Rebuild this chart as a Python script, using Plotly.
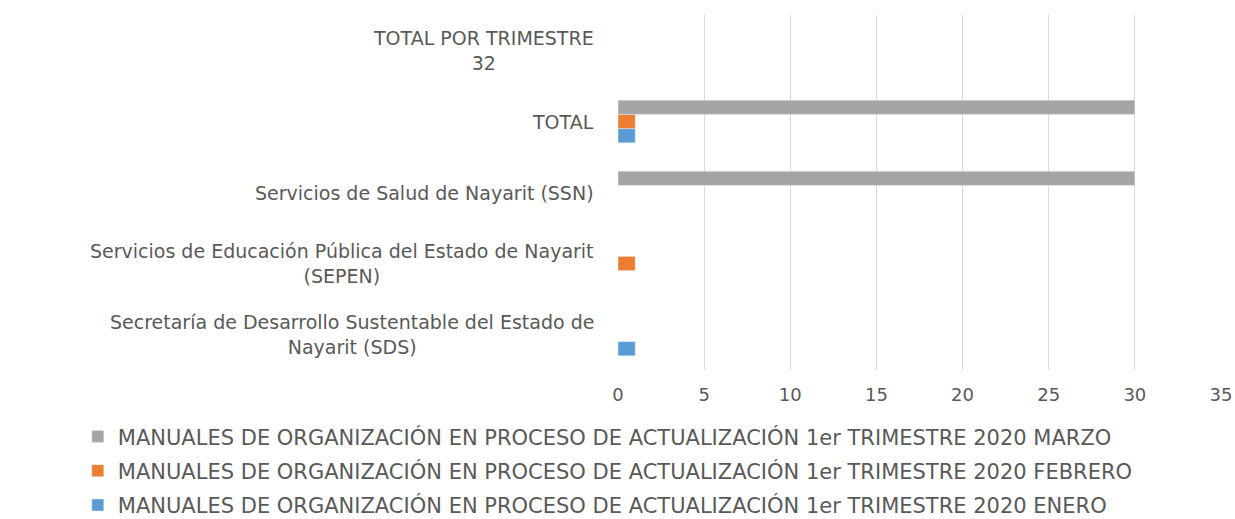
import plotly.graph_objects as go

categories = [
    "Secretaría de Desarrollo Sustentable del Estado de<br>Nayarit (SDS)",
    "Servicios de Educación Pública del Estado de Nayarit<br>(SEPEN)",
    "Servicios de Salud de Nayarit (SSN)",
    "TOTAL",
    "TOTAL POR TRIMESTRE<br>32",
]
enero = [1, None, None, 1, None]
febrero = [None, 1, None, 1, None]
marzo = [None, None, 30, 30, None]
series_names = [
    "MANUALES DE ORGANIZACIÓN EN PROCESO DE ACTUALIZACIÓN 1er TRIMESTRE 2020 ENERO",
    "MANUALES DE ORGANIZACIÓN EN PROCESO DE ACTUALIZACIÓN 1er TRIMESTRE 2020 FEBRERO",
    "MANUALES DE ORGANIZACIÓN EN PROCESO DE ACTUALIZACIÓN 1er TRIMESTRE 2020 MARZO",
]
colors = ["#5B9BD5", "#ED7D31", "#A5A5A5"]
legend_ranks = [3, 2, 1]
x_ticks = [0, 5, 10, 15, 20, 25, 30, 35]

FONT = "DejaVu Sans"
TXT = "#595959"

fig = go.Figure()
for name, vals, c, rk in zip(series_names, [enero, febrero, marzo], colors, legend_ranks):
    fig.add_trace(go.Bar(
        y=categories, x=vals, name=name, orientation="h",
        marker=dict(color=c), legendgroup=name, legendrank=rk,
    ))

for cat in categories:
    fig.add_annotation(
        text=cat, y=cat, yref="y", x=0, xref="paper",
        xanchor="right", xshift=-22, align="center", showarrow=False,
        font=dict(family=FONT, size=19, color=TXT),
    )

fig.update_layout(
    width=1235, height=519,
    margin=dict(l=618, r=14, t=15, b=149, autoexpand=False),
    paper_bgcolor="white", plot_bgcolor="white",
    barmode="group", bargap=0.40, bargroupgap=0,
    font=dict(family=FONT, color=TXT),
    xaxis=dict(
        range=[0, 35], tickvals=x_ticks, showgrid=True, gridcolor="#D9D9D9",
        gridwidth=1, zeroline=False, showline=False,
        tickfont=dict(family=FONT, size=18, color=TXT), ticks="",
        ticklabelstandoff=12,
    ),
    yaxis=dict(
        categoryorder="array", categoryarray=categories,
        showticklabels=False, showgrid=False, zeroline=False, showline=False,
    ),
    showlegend=True,
    legend=dict(
        orientation="v", traceorder="grouped", tracegroupgap=4,
        xref="container", yref="container", x=0.063, y=0.198,
        xanchor="left", yanchor="top",
        font=dict(family=FONT, size=21, color=TXT),
        itemwidth=30,
    ),
)

fig.write_html(
    "out.html",
    config={"displayModeBar": False},
    post_script="document.body.style.margin='0';document.body.style.overflow='hidden';",
)
